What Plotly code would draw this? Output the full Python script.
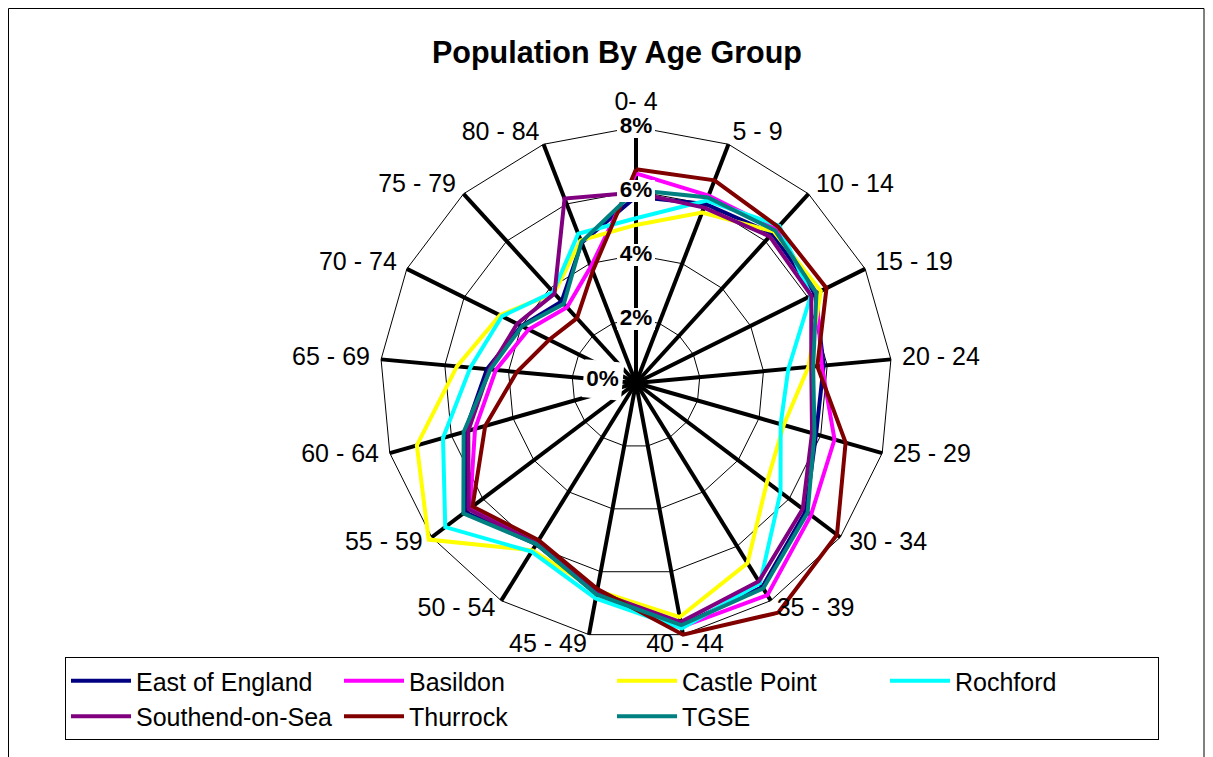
import plotly.graph_objects as go

categories = ["0- 4", "5 - 9", "10 - 14", "15 - 19", "20 - 24", "25 - 29", "30 - 34",
              "35 - 39", "40 - 44", "45 - 49", "50 - 54", "55 - 59", "60 - 64",
              "65 - 69", "70 - 74", "75 - 79", "80 - 84"]

east_of_england = [5.82, 6.00, 6.32, 6.25, 5.89, 5.85, 6.65, 7.50, 7.70, 6.70, 5.92, 6.70, 5.55, 4.68, 4.00, 3.45, 4.70]
basildon        = [6.55, 6.28, 6.50, 6.30, 5.83, 6.45, 6.85, 7.80, 7.75, 6.70, 5.90, 6.50, 5.23, 4.40, 3.75, 3.20, 3.90]
castle_point    = [4.94, 5.71, 6.40, 6.45, 5.41, 4.80, 5.13, 6.62, 7.44, 6.60, 6.15, 8.12, 7.12, 5.62, 4.75, 3.80, 4.78]
rochford        = [5.15, 6.11, 6.65, 6.10, 4.78, 4.70, 5.66, 7.36, 7.80, 6.85, 6.20, 7.47, 6.27, 5.20, 4.68, 3.85, 5.00]
southend        = [5.95, 5.88, 6.20, 6.12, 5.50, 5.72, 6.53, 7.29, 7.60, 6.65, 5.90, 6.55, 5.45, 4.60, 4.15, 3.78, 6.18]
thurrock        = [6.68, 6.79, 6.60, 6.65, 5.69, 6.81, 7.87, 8.44, 8.00, 6.55, 5.78, 6.40, 4.90, 3.74, 3.03, 2.74, 3.75]
tgse            = [6.03, 6.22, 6.45, 6.30, 5.56, 5.80, 6.72, 7.55, 7.70, 6.72, 5.92, 6.76, 5.60, 4.57, 3.98, 3.35, 4.72]

series_names = ["East of England", "Basildon", "Castle Point", "Rochford",
                "Southend-on-Sea", "Thurrock", "TGSE"]
series_values = [east_of_england, basildon, castle_point, rochford, southend, thurrock, tgse]
series_colors = ["#000080", "#FF00FF", "#FFFF00", "#00FFFF", "#800080", "#800000", "#008080"]

radial_ticks = [0, 2, 4, 6, 8]
radial_labels = ["0%", "2%", "4%", "6%", "8%"]
axis_max = 8

FONT = "Liberation Sans, Arial, sans-serif"
n = len(categories)

fig = go.Figure()

# spokes
spoke_r, spoke_t = [], []
for c in categories:
    spoke_r += [0, axis_max, None]
    spoke_t += [c, c, c]
fig.add_trace(go.Scatterpolar(r=spoke_r, theta=spoke_t, mode="lines",
                              line=dict(color="black", width=4),
                              showlegend=False, hoverinfo="skip", connectgaps=False))

for name, vals, col in zip(series_names, series_values, series_colors):
    fig.add_trace(go.Scatterpolar(r=vals + [vals[0]], theta=categories + [categories[0]],
                                  mode="lines", name=name,
                                  line=dict(color=col, width=4)))

# white boxes behind the radial tick labels (on the first spoke; 0% sits left of centre)
zero_theta = categories[13]
box_r, box_t = [], []
for t in radial_ticks[1:]:
    box_r += [t - 0.34, t + 0.34, None]
    box_t += [categories[0]] * 3
box_r += [0.42, 1.65, None]
box_t += [zero_theta] * 3
fig.add_trace(go.Scatterpolar(r=box_r, theta=box_t, mode="lines",
                              line=dict(color="white", width=38),
                              showlegend=False, hoverinfo="skip", connectgaps=False))

tick_font = dict(size=22.5, family=FONT, weight="bold", color="black")
fig.add_trace(go.Scatterpolar(r=radial_ticks[1:], theta=[categories[0]] * (len(radial_ticks) - 1),
                              mode="text", text=radial_labels[1:], textposition="middle center",
                              textfont=tick_font, showlegend=False, hoverinfo="skip",
                              cliponaxis=False))
fig.add_trace(go.Scatterpolar(r=[radial_ticks[0] + 1.05], theta=[zero_theta],
                              mode="text", text=[radial_labels[0]], textposition="middle center",
                              textfont=tick_font, showlegend=False, hoverinfo="skip",
                              cliponaxis=False))

# category labels just outside the spoke ends
positions = []
for i in range(n):
    if i == 0:
        positions.append("top center")
    elif i == 8:
        positions.append("middle center")
    elif i < 8:
        positions.append("middle right")
    else:
        positions.append("middle left")
label_r = axis_max + 0.35
fig.add_trace(go.Scatterpolar(r=[label_r] * n, theta=categories, mode="text",
                              text=categories, textposition=positions,
                              textfont=dict(size=25, family=FONT, color="black"),
                              showlegend=False, hoverinfo="skip", cliponaxis=False))

# page body has an 8px margin; work in reference pixel coords minus that offset
O = 8
W, H = 1213 - O, 757 - O
cx, cy, R = 636 - O, 383 - O, 272
fig.update_layout(
    width=W, height=H,
    margin=dict(l=0, r=0, t=0, b=0),
    paper_bgcolor="white",
    font=dict(family=FONT, color="black"),
    title=dict(text="Population By Age Group", x=(617 - O) / W, xanchor="center",
               y=1 - (52 - O) / H, yanchor="middle",
               font=dict(size=30.5, family=FONT, weight="bold", color="black")),
    polar=dict(
        domain=dict(x=[(cx - R) / W, (cx + R) / W], y=[(H - cy - R) / H, (H - cy + R) / H]),
        bgcolor="white",
        gridshape="linear",
        angularaxis=dict(type="category", direction="clockwise", rotation=90,
                         showgrid=False, showline=False, ticks="", showticklabels=False),
        radialaxis=dict(range=[0, 8.5], tickvals=radial_ticks,
                        showgrid=True, gridcolor="black", gridwidth=1,
                        showline=False, ticks="", angle=90, showticklabels=False),
    ),
    legend=dict(orientation="h", x=(65 - O) / W, xanchor="left", y=1 - (657 - O) / H, yanchor="top",
                entrywidth=198, entrywidthmode="pixels",
                bordercolor="black", borderwidth=1, bgcolor="white",
                font=dict(size=25, family=FONT, color="black"),
                itemwidth=60, tracegroupgap=0),
    shapes=[dict(type="rect", xref="paper", yref="paper",
                 x0=0.5 / W, x1=(1204 - O) / W, y0=-0.05, y1=1 - 0.5 / H,
                 line=dict(color="black", width=1), layer="below")],
)

fig.write_html("out.html")
